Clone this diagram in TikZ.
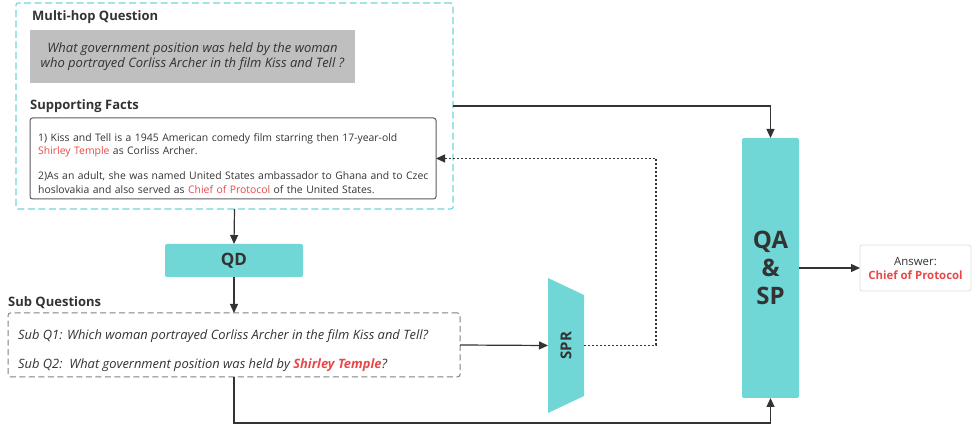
\documentclass[tikz,border=0pt]{standalone}
\usepackage{fontspec}
\setmainfont{Open Sans}
\usetikzlibrary{arrows.meta,calc}
\definecolor{cyanq}{RGB}{112,214,214}
\definecolor{txt}{RGB}{51,51,51}
\definecolor{redq}{RGB}{232,72,72}
\definecolor{grayq}{RGB}{191,191,191}
\definecolor{bord}{RGB}{90,90,90}
\tikzset{
  arr/.style={-{Triangle[length=9pt,width=8pt]},draw=txt,line width=1.2pt},
  heading/.style={anchor=west,inner sep=0pt,text=txt,font=\fontsize{13}{15}\selectfont\bfseries},
  box/.style={anchor=north west,inner sep=0pt,outer sep=0pt},
  tealbox/.style={box,fill=cyanq,rounded corners=2pt,text=txt,font=\bfseries},
}
\begin{document}
\begin{tikzpicture}[x=1pt,y=-1pt]
\useasboundingbox (0,0) rectangle (972,427);
% outer dashed box
\node[box,draw=cyanq,line width=1.1pt,dash pattern=on 7pt off 3.5pt,rounded corners=2pt,minimum width=437pt,minimum height=206pt] (outer) at (16,3) {};
\node[heading] (mhq) at (32,17) {Multi-hop Question};
\node[box,fill=grayq,minimum width=325pt,minimum height=53pt] (qbox) at (30,30) {};
\node[text=txt,font=\fontsize{13}{14.5}\selectfont\itshape,align=center,inner sep=0pt] (qtext) at (qbox.center) {What government position was held by the woman\\who portrayed Corliss Archer in th film Kiss and Tell ?};
\node[heading] (sf) at (30,106) {Supporting Facts};
\node[box,draw=bord,line width=1pt,rounded corners=2.5pt,minimum width=406pt,minimum height=81pt] (facts) at (30,118) {};
\node[anchor=north west,inner sep=0pt,text width=404pt,align=left,text=txt,font=\fontsize{10.4}{13.5}\selectfont] (ftext) at (38,133) {1) Kiss and Tell is a 1945 American comedy film starring then 17-year-old\\\textcolor{redq}{Shirley Temple} as Corliss Archer.\\[11.5pt]2)As an adult, she was named United States ambassador to Ghana and to Czec\\hoslovakia and also served as \textcolor{redq}{Chief of Protocol} of the United States.};
% QD
\node[tealbox,minimum width=138pt,minimum height=33pt,font=\fontsize{17}{19}\selectfont\bfseries] (qd) at (165,244) {QD};
% Sub questions
\node[heading] (sqh) at (8,303) {Sub Questions};
\node[box,draw=gray,line width=1pt,dash pattern=on 6pt off 3.5pt,rounded corners=2.5pt,minimum width=452pt,minimum height=64pt] (sub) at (8,313) {};
\node[anchor=west,inner sep=0pt,text=txt,font=\fontsize{12.9}{15}\selectfont\itshape] (sq1) at (18,336) {Sub Q1: Which woman portrayed Corliss Archer in the film Kiss and Tell?};
\node[anchor=west,inner sep=0pt,text=txt,font=\fontsize{12.9}{15}\selectfont\itshape] (sq2) at (18,365) {Sub Q2:\ \ What government position was held by \textcolor{redq}{\bfseries Shirley Temple}?};
% SPR trapezoid
\fill[cyanq] (548,278) -- (584,295) -- (584,396) -- (548,413) -- cycle;
\node[inner sep=0pt,outer sep=0pt,minimum width=36pt,minimum height=135pt] (spr) at (566,345.5) {};
\node[rotate=90,text=txt,font=\fontsize{15}{17}\selectfont\bfseries,inner sep=0pt] (sprt) at (spr.center) {SPR};
% QA & SP
\node[tealbox,minimum width=57pt,minimum height=260pt,align=center,font=\fontsize{24}{28}\selectfont\bfseries] (qa) at (742,138) {QA\\\&\\SP};
% Answer
\node[box,draw=black!13,line width=0.8pt,rounded corners=2pt,minimum width=111pt,minimum height=46pt] (ans) at (860,245) {};
\node[align=center,inner sep=0pt,text=txt,font=\fontsize{11.4}{14}\selectfont] (anst) at (ans.center) {Answer:\\\textcolor{redq}{\bfseries Chief of Protocol}};
% connectors
\draw[arr] (outer.south) -- (qd.north);
\draw[arr] (qd.south) -- (sub.north);
\draw[arr] (outer.east) -| (qa.north);
\draw[arr] (sub.east) -- (spr.west);
\draw[arr,dash pattern=on 2pt off 2pt] (spr.east) -- ++(72,0) |- (facts.east);
\draw[arr] (sub.south) -- ++(0,46) -| (qa.south);
\draw[arr] (qa.east) -- (ans.west);
\end{tikzpicture}
\end{document}
